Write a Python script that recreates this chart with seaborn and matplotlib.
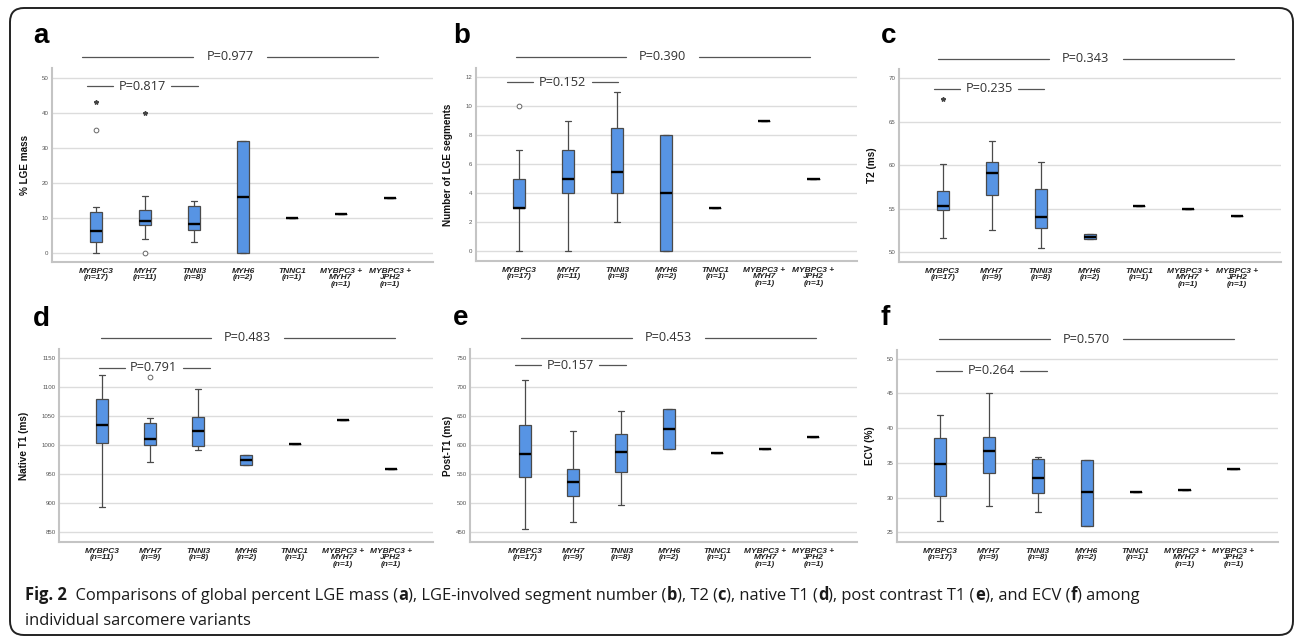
import matplotlib
matplotlib.use("Agg")
import matplotlib.pyplot as plt
import matplotlib.transforms as mtransforms
from matplotlib.patches import FancyBboxPatch
import seaborn as sns
import pandas as pd

# ---- data ----
GENES = ["MYBPC3", "MYH7", "TNNI3", "MYH6", "TNNC1", "MYBPC3+MYH7", "MYBPC3+JPH2"]
GENE_LABELS = ["MYBPC3", "MYH7", "TNNI3", "MYH6", "TNNC1", "MYBPC3 +\nMYH7", "MYBPC3 +\nJPH2"]

# five-number summaries: [low whisker, Q1, median, Q3, high whisker]
LGE_MASS = [[0, 3.0, 6.2, 11.6, 13.2], [4.0, 8.1, 9.2, 12.2, 16.2], [3.2, 6.6, 8.4, 13.4, 14.8],
            [0, 0, 16.0, 32.0, 32.0], [10.1] * 5, [11.3] * 5, [15.8] * 5]
LGE_MASS_N = [17, 11, 8, 2, 1, 1, 1]
LGE_MASS_MILD = {"MYBPC3": [35.2], "MYH7": [0.1]}
LGE_MASS_EXTREME = {"MYBPC3": [43.3], "MYH7": [40.1]}
LGE_MASS_P = ("P=0.977", "P=0.817")

LGE_SEG = [[0, 3, 3, 5, 7], [0, 4, 5, 7, 9], [2, 4, 5.5, 8.5, 11],
           [0, 0, 4, 8, 8], [3] * 5, [9] * 5, [5] * 5]
LGE_SEG_N = [17, 11, 8, 2, 1, 1, 1]
LGE_SEG_MILD = {"MYBPC3": [10]}
LGE_SEG_EXTREME = {}
LGE_SEG_P = ("P=0.390", "P=0.152")

T2 = [[51.65, 54.84, 55.3, 56.99, 60.06], [52.57, 56.6, 59.14, 60.29, 62.78],
      [50.5, 52.76, 54.03, 57.29, 60.36], [51.46, 51.46, 51.77, 52.1, 52.1],
      [55.26] * 5, [54.91] * 5, [54.18] * 5]
T2_N = [17, 9, 8, 2, 1, 1, 1]
T2_MILD = {}
T2_EXTREME = {"MYBPC3": [67.6]}
T2_P = ("P=0.343", "P=0.235")

NATIVE_T1 = [[894.3, 1004.6, 1035.6, 1079.9, 1121.8], [971.8, 1000.0, 1010.3, 1037.9, 1047.7],
             [992.5, 998.3, 1025.3, 1048.3, 1097.1], [965.5, 965.5, 974.7, 983.3, 983.3],
             [1002.3] * 5, [1044.3] * 5, [959.2] * 5]
NATIVE_T1_N = [11, 9, 8, 2, 1, 1, 1]
NATIVE_T1_MILD = {"MYH7": [1117.2]}
NATIVE_T1_EXTREME = {}
NATIVE_T1_P = ("P=0.483", "P=0.791")

POST_T1 = [[455.2, 546.0, 585.6, 634.5, 712.6], [467.8, 512.6, 537.4, 559.8, 625.3],
           [496.6, 554.6, 587.9, 619.0, 659.8], [593.1, 593.1, 628.7, 663.2, 663.2],
           [586.2] * 5, [593.1] * 5, [613.8] * 5]
POST_T1_N = [17, 9, 8, 2, 1, 1, 1]
POST_T1_MILD = {}
POST_T1_EXTREME = {}
POST_T1_P = ("P=0.453", "P=0.157")

ECV = [[26.58, 30.21, 34.85, 38.62, 41.87], [28.78, 33.51, 36.71, 38.72, 45.12],
       [27.87, 30.64, 32.79, 35.61, 35.80], [25.96, 25.96, 30.74, 35.37, 35.37],
       [30.83] * 5, [31.07] * 5, [34.08] * 5]
ECV_N = [17, 9, 8, 2, 1, 1, 1]
ECV_MILD = {}
ECV_EXTREME = {}
ECV_P = ("P=0.570", "P=0.264")

CAPTION_1 = [("Fig. 2", "bold"), ("  Comparisons of global percent LGE mass (", "normal"), ("a", "bold"),
             ("), LGE-involved segment number (", "normal"), ("b", "bold"), ("), T2 (", "normal"),
             ("c", "bold"), ("), native T1 (", "normal"), ("d", "bold"), ("), post contrast T1 (", "normal"),
             ("e", "bold"), ("), and ECV (", "normal"), ("f", "bold"), (") among", "normal")]
CAPTION_2 = "individual sarcomere variants"

# ---- styling ----
sns.set_style("white")
plt.rcParams["font.family"] = ["Liberation Sans", "DejaVu Sans"]

W, H = 1295, 637
BOX_BLUE = "#5794e4"
EDGE = "#4a4a4a"

# layout per panel: pixel box (left, right, top, bottom), xlim, ylim, yticks,
# ylabel x, top P-line (y, x0, x1, x2, x3), inner P-line (y, x0, x1, x2, x3)
PANELS = [
    dict(letter="a", data=LGE_MASS, n=LGE_MASS_N, mild=LGE_MASS_MILD, ext=LGE_MASS_EXTREME, p=LGE_MASS_P,
         ylabel="% LGE mass", px=(52, 433, 68, 262), xlim=(-0.898, 6.878), ylim=(-2.6, 53),
         yticks=range(0, 51, 10), ylx=-0.058, lpos=(33, 43),
         ptop=(1.057, -0.286, 1.98, 3.49, 5.755), pin=(0.907, -0.184, 0.347, 1.531, 2.082)),
    dict(letter="b", data=LGE_SEG, n=LGE_SEG_N, mild=LGE_SEG_MILD, ext=LGE_SEG_EXTREME, p=LGE_SEG_P,
         ylabel="Number of LGE segments", px=(476, 857, 68, 261), xlim=(-0.884, 6.89), ylim=(-0.67, 12.64),
         yticks=range(0, 13, 2), ylx=-0.06, lpos=(453, 43),
         ptop=(1.059, -0.073, 2.178, 3.667, 5.933), pin=(0.926, -0.251, 0.28, 1.484, 2.014)),
    dict(letter="c", data=T2, n=T2_N, mild=T2_MILD, ext=T2_EXTREME, p=T2_P,
         ylabel="T2 (ms)", px=(899, 1281, 69, 262), xlim=(-0.89, 6.9), ylim=(48.85, 71.04),
         yticks=range(50, 71, 5), ylx=-0.058, lpos=(881, 43),
         ptop=(1.052, -0.09, 2.173, 3.67, 5.945), pin=(0.898, -0.177, 0.353, 1.541, 2.071)),
    dict(letter="d", data=NATIVE_T1, n=NATIVE_T1_N, mild=NATIVE_T1_MILD, ext=NATIVE_T1_EXTREME, p=NATIVE_T1_P,
         ylabel="Native T1 (ms)", px=(59, 433, 349, 542), xlim=(-0.9, 6.88), ylim=(833.4, 1166.2),
         yticks=range(850, 1151, 50), ylx=-0.079, lpos=(33, 326),
         ptop=(1.059, -0.027, 2.266, 3.79, 6.09), pin=(0.902, -0.077, 0.464, 1.678, 2.231)),
    dict(letter="e", data=POST_T1, n=POST_T1_N, mild=POST_T1_MILD, ext=POST_T1_EXTREME, p=POST_T1_P,
         ylabel="Post-T1 (ms)", px=(470, 857, 349, 542), xlim=(-1.145, 6.91), ylim=(433.4, 766.2),
         yticks=range(450, 751, 50), ylx=-0.043, lpos=(453, 325),
         ptop=(1.059, -0.083, 2.221, 3.746, 6.05), pin=(0.917, -0.208, 0.333, 1.546, 2.102)),
    dict(letter="f", data=ECV, n=ECV_N, mild=ECV_MILD, ext=ECV_EXTREME, p=ECV_P,
         ylabel="ECV (%)", px=(897, 1278, 350, 542), xlim=(-0.88, 6.91), ylim=(23.6, 51.25),
         yticks=range(25, 51, 5), ylx=-0.059, lpos=(881, 325),
         ptop=(1.057, -0.014, 2.249, 3.748, 6.012), pin=(0.891, -0.082, 0.444, 1.636, 2.182)),
]


def p_line(ax, spec, label):
    y, x0, x1, x2, x3 = spec
    trans = mtransforms.blended_transform_factory(ax.transData, ax.transAxes)
    for a, b in ((x0, x1), (x2, x3)):
        ax.plot([a, b], [y, y], color="#555555", lw=0.9, transform=trans, clip_on=False)
    ax.text((x1 + x2) / 2, y, label, transform=trans, ha="center", va="center",
            fontsize=9.2, family=["Open Sans", "DejaVu Sans"], color="#333333")


def draw_panel(fig, cfg):
    l, r, t, b = cfg["px"]
    ax = fig.add_axes([l / W, 1 - b / H, (r - l) / W, (b - t) / H])
    rows = [(g, v) for g, stats in zip(GENES, cfg["data"]) for v in stats]
    df = pd.DataFrame(rows, columns=["gene", "value"])
    sns.boxplot(data=df, x="gene", y="value", order=GENES, ax=ax, width=0.25, whis=(0, 100),
                color=BOX_BLUE, saturation=1, linecolor=EDGE, linewidth=0.9, showfliers=False,
                medianprops=dict(color="black", linewidth=1.7))
    for g, vals in cfg["mild"].items():
        ax.plot([GENES.index(g)] * len(vals), vals, ls="none", marker="o", ms=3.4,
                mfc="white", mec="#666666", mew=0.7, zorder=5)
    for g, vals in cfg["ext"].items():
        ax.plot([GENES.index(g)] * len(vals), vals, ls="none", marker="*", ms=3.2,
                color="#444444", zorder=5)

    ax.set_xlim(*cfg["xlim"])
    ax.set_ylim(*cfg["ylim"])
    ax.set_yticks(list(cfg["yticks"]))
    ax.yaxis.grid(True, color="#dcdcdc", lw=1.0)
    ax.set_axisbelow(True)
    for s in ("top", "right"):
        ax.spines[s].set_visible(False)
    for s in ("left", "bottom"):
        ax.spines[s].set_color("#c4c4c4")
        ax.spines[s].set_linewidth(1.5)

    labels = [f"{g}\n(n={n})" for g, n in zip(GENE_LABELS, cfg["n"])]
    ax.set_xticks(range(len(GENES)))
    ax.set_xticklabels(labels, fontsize=6.0, fontweight="bold", fontstyle="italic",
                       color="#222222", linespacing=0.92, va="top")
    ax.tick_params(axis="x", length=0, pad=4)
    ax.tick_params(axis="y", length=0, pad=2.5, labelsize=4.4, labelcolor="#555555")
    ax.set_xlabel("")
    ax.set_ylabel(cfg["ylabel"], fontsize=7.2, fontweight="bold", color="#111111")
    ax.yaxis.set_label_coords(cfg["ylx"], 0.5)

    p_line(ax, cfg["ptop"], cfg["p"][0])
    p_line(ax, cfg["pin"], cfg["p"][1])

    lx, ly = cfg["lpos"]
    fig.text(lx / W, 1 - ly / H, cfg["letter"], fontsize=20, fontweight="bold",
             ha="left", va="baseline", color="black")
    return ax


def rich_line(fig, x_px, y_px, parts, size):
    renderer = fig.canvas.get_renderer()
    x = x_px
    for s, w in parts:
        t = fig.text(x / W, 1 - y_px / H, s, fontsize=size, fontweight=w,
                     family=["Open Sans", "DejaVu Sans"], va="baseline", ha="left", color="#1a1a1a")
        x += t.get_window_extent(renderer).width


fig = plt.figure(figsize=(W / 100, H / 100), dpi=100)
fig.patch.set_facecolor("white")

for cfg in PANELS:
    draw_panel(fig, cfg)

rich_line(fig, 25, 600, CAPTION_1, 11.9)
rich_line(fig, 25, 625, [(CAPTION_2, "normal")], 11.9)

frame = FancyBboxPatch((10, 2), 1283, 627, boxstyle="round,pad=0,rounding_size=14",
                       fc="none", ec="#222222", lw=1.4, transform=mtransforms.IdentityTransform())
fig.add_artist(frame)

fig.savefig("out.png", dpi=100)
